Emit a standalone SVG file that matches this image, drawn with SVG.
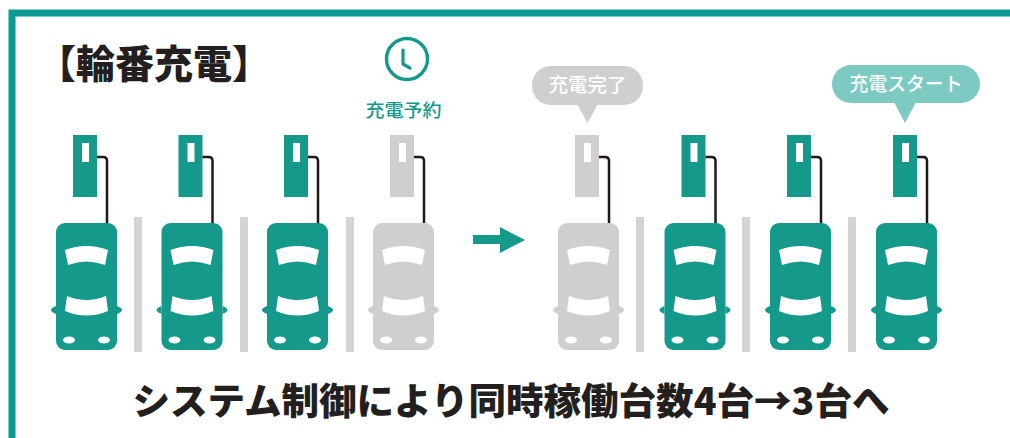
<svg xmlns="http://www.w3.org/2000/svg" xmlns:xlink="http://www.w3.org/1999/xlink" width="1010" height="438" viewBox="0 0 1010 438">
  <style>
    .frame { fill: none; stroke: #0c9b94; stroke-width: 7; }
    .title { font-family: "Noto Sans CJK JP", "Noto Sans", sans-serif; font-weight: 900; fill: #231f1f; }
    .label { font-family: "Noto Sans CJK JP", "Noto Sans", sans-serif; font-weight: 500; }
    .teal { color: #14998b; }
    .gray { color: #cfcfcf; }
    .divider { fill: #d4d4d4; }
    .cable { fill: none; stroke: #231815; stroke-width: 2.5; }
    .win { fill: #ffffff; }
  </style>
  <defs>
    <!-- one parking bay: charger, cable and car seen from above; x=0 is the car's left edge -->
    <g id="station">
      <rect x="17" y="135" width="24" height="62" fill="currentColor"/>
      <rect x="26" y="143" width="7" height="19" class="win"/>
      <path class="cable" d="M41,157 H47 Q51,157 51,161 V225"/>
      <path d="M0,306 Q-5,308 -5,310 Q-5,312 0,314 Z M61,306 Q66,308 66,310 Q66,312 61,314 Z" fill="currentColor"/>
      <rect x="0" y="223" width="61" height="127" rx="9" fill="currentColor"/>
      <path class="win" d="M9,250 Q30.5,242 52,250 L49,265 Q30.5,258 12,265 Z"/>
      <path class="win" d="M11,296 Q30.5,304 50,296 L52,311 Q30.5,320 9,311 Z"/>
      <ellipse class="win" cx="13" cy="340" rx="6" ry="3.5"/>
      <ellipse class="win" cx="48" cy="340" rx="6" ry="3.5"/>
    </g>
  </defs>

  <rect width="1010" height="438" fill="#ffffff"/>
  <rect class="frame" x="12" y="13" width="1010" height="440"/>

  <text class="title" x="37" y="78" font-size="39">【輪番充電】</text>

  <!-- reservation clock -->
  <g id="reserve">
    <circle cx="407" cy="59" r="20.5" fill="none" stroke="#14998b" stroke-width="3.4"/>
    <path d="M403,50 V64 L410,68" fill="none" stroke="#14998b" stroke-width="3.2" stroke-linecap="round" stroke-linejoin="round"/>
    <text class="label" x="403.5" y="117" font-size="18" font-weight="700" fill="#14998b" text-anchor="middle" textLength="76" lengthAdjust="spacingAndGlyphs">充電予約</text>
  </g>

  <!-- bays before -->
  <g id="bay1" class="teal"><use xlink:href="#station" x="56"/></g>
  <g id="bay2" class="teal"><use xlink:href="#station" x="161.5"/></g>
  <g id="bay3" class="teal"><use xlink:href="#station" x="267"/></g>
  <g id="bay4" class="gray"><use xlink:href="#station" x="373"/></g>

  <!-- bays after -->
  <g id="bay5" class="gray"><use xlink:href="#station" x="558"/></g>
  <g id="bay6" class="teal"><use xlink:href="#station" x="664.5"/></g>
  <g id="bay7" class="teal"><use xlink:href="#station" x="770"/></g>
  <g id="bay8" class="teal"><use xlink:href="#station" x="876"/></g>

  <g id="dividers">
    <rect class="divider" x="134" y="217" width="8" height="135"/>
    <rect class="divider" x="240" y="217" width="8" height="135"/>
    <rect class="divider" x="346" y="217" width="8" height="135"/>
    <rect class="divider" x="636" y="217" width="8" height="135"/>
    <rect class="divider" x="742" y="217" width="8" height="135"/>
    <rect class="divider" x="848" y="217" width="8" height="135"/>
  </g>

  <!-- speech bubbles -->
  <g id="bubble-done">
    <rect x="532" y="66" width="111" height="39" rx="19" fill="#cfcfcf"/>
    <path d="M577,104 H598 L587.5,123 Z" fill="#cfcfcf"/>
    <text class="label" x="587.5" y="92" font-size="19" fill="#ffffff" text-anchor="middle" textLength="78" lengthAdjust="spacingAndGlyphs">充電完了</text>
  </g>
  <g id="bubble-start">
    <rect x="832" y="65" width="148" height="38" rx="19" fill="#7dcac3"/>
    <path d="M894,102 H916 L905,123 Z" fill="#7dcac3"/>
    <text class="label" x="906" y="91" font-size="19" fill="#ffffff" text-anchor="middle" textLength="113" lengthAdjust="spacingAndGlyphs">充電スタート</text>
  </g>

  <g id="connectors">
    <path d="M473,235 H500 V227 L525,240 L500,253 V244 H473 Z" fill="#14998b"/>
  </g>

  <text class="title" x="511" y="415" font-size="37" font-weight="700" text-anchor="middle" textLength="757" lengthAdjust="spacingAndGlyphs">システム制御により同時稼働台数4台→3台へ</text>
</svg>
